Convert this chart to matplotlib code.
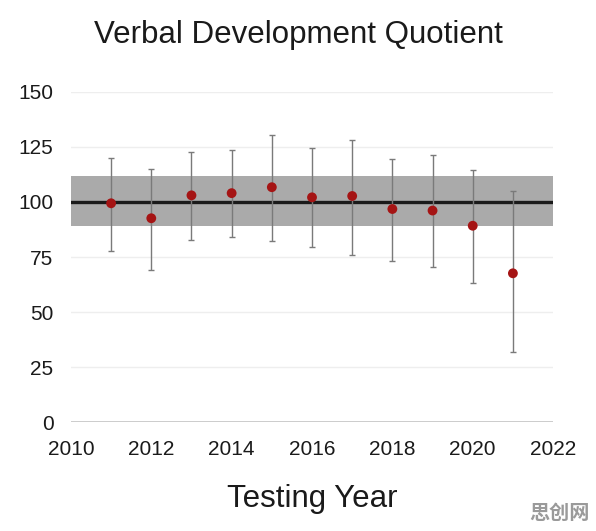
import matplotlib
matplotlib.use("Agg")
import matplotlib.pyplot as plt

years = [2011, 2012, 2013, 2014, 2015, 2016, 2017, 2018, 2019, 2020, 2021]
means = [99.4, 92.6, 103.0, 104.0, 106.7, 102.1, 102.7, 96.8, 96.1, 89.2, 67.6]
upper = [120.0, 115.0, 122.9, 123.5, 130.5, 124.5, 128.2, 119.5, 121.4, 114.5, 105.1]
lower = [77.7, 69.0, 82.7, 84.2, 82.1, 79.5, 75.9, 73.3, 70.6, 63.0, 32.0]
band_low, band_high, ref_line = 89, 112, 100
xticks = [2010, 2012, 2014, 2016, 2018, 2020, 2022]
yticks = [0, 25, 50, 75, 100, 125, 150]

plt.rcParams['font.family'] = ['Liberation Sans', 'DejaVu Sans']
fig = plt.figure(figsize=(5.96, 5.31), dpi=100)
ax = fig.add_axes([0.119, 0.205, 0.809, 0.622])

ax.axhspan(band_low, band_high, color='#aaaaaa', zorder=1, lw=0)
ax.axhline(ref_line, color='#1a1a1a', lw=2.4, zorder=2)
for y in yticks[1:]:
    ax.axhline(y, color='#eeeeee', lw=1, zorder=0)
ax.axhline(0, color='#c8c8c8', lw=2, zorder=0)

yerr = [[m - l for m, l in zip(means, lower)], [u - m for m, u in zip(means, upper)]]
ax.errorbar(years, means, yerr=yerr, fmt='none', ecolor='#7a7a7a', elinewidth=1,
            capsize=2, capthick=1, zorder=3, clip_on=False)
ax.scatter(years, means, s=50, color='#a51414', zorder=4, edgecolors='none')

ax.set_xlim(2010, 2022)
ax.set_ylim(0, 150)
ax.set_xticks(xticks)
ax.set_yticks(yticks)
ax.tick_params(length=0, labelsize=15, colors='#1a1a1a')
ax.tick_params(axis='x', pad=12.5)
ax.tick_params(axis='y', pad=12.5)
for s in ax.spines.values():
    s.set_visible(False)

fig.text(0.5, 0.919, 'Verbal Development Quotient', ha='center', va='baseline', fontsize=22.5, color='#1a1a1a')
fig.text(0.524, 0.045, 'Testing Year', ha='center', va='baseline', fontsize=22.5, color='#1a1a1a')
fig.text(0.99, 0.035, '思创网', ha='right', va='center', fontsize=14.5, color='#9a9a9a',
         family=['Noto Sans CJK SC', 'DejaVu Sans'], fontweight='bold')

fig.savefig('out.png', dpi=100, facecolor='white')
